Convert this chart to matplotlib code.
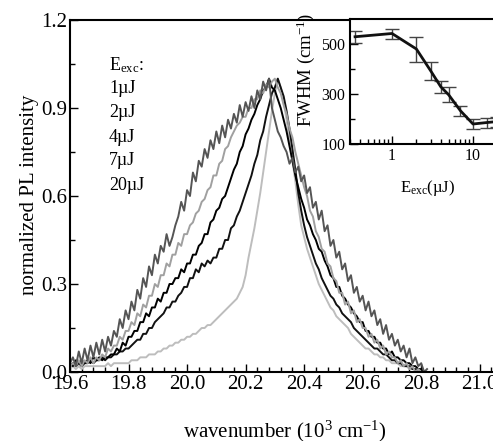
import numpy as np
import matplotlib
matplotlib.use("Agg")
import matplotlib.pyplot as plt
from matplotlib.ticker import MultipleLocator, FixedLocator, NullFormatter, LogLocator

plt.rcParams['font.family'] = 'Liberation Serif'
plt.rcParams['mathtext.fontset'] = 'custom'
plt.rcParams['mathtext.rm'] = 'Liberation Serif'
plt.rcParams['mathtext.it'] = 'Liberation Serif:italic'

# wavenumber grid (10^3 cm^-1), 19.60 ... 20.82 in steps of 0.01
wavenumber = np.round(np.arange(19.60, 20.825, 0.01), 2)

pl_20uJ = [.03, .05, .02, .07, .03, .08, .04, .09, .05, .10,
           .06, .11, .07, .12, .09, .14, .12, .18, .15, .21,
           .18, .24, .21, .28, .25, .32, .29, .36, .33, .40,
           .37, .43, .41, .47, .43, .46, .50, .53, .58, .55,
           .62, .60, .68, .65, .72, .70, .76, .73, .79, .76,
           .82, .78, .84, .80, .86, .83, .88, .85, .91, .87,
           .92, .89, .94, .90, .96, .93, .99, .96, 1.0, .90,
           .86, .82, .80, .77, .75, .71, .73, .68, .70, .65,
           .67, .61, .63, .56, .58, .52, .55, .48, .50, .43,
           .45, .39, .41, .35, .37, .31, .33, .27, .29, .24,
           .26, .21, .24, .19, .21, .16, .18, .13, .16, .11,
           .13, .09, .11, .07, .09, .05, .08, .03, .05, .02,
           .03, .00, .01]

pl_7uJ = [.02, .03, .02, .04, .02, .04, .03, .05, .03, .05,
          .04, .06, .05, .08, .07, .09, .09, .12, .11, .14,
          .14, .17, .16, .20, .19, .23, .22, .26, .26, .30,
          .29, .33, .33, .37, .36, .40, .40, .44, .43, .47,
          .47, .50, .51, .54, .55, .58, .59, .62, .63, .67,
          .67, .71, .72, .76, .77, .80, .82, .84, .85, .87,
          .87, .90, .90, .93, .93, .96, .95, .98, .97, .99,
          1.0, .97, .95, .91, .88, .83, .80, .75, .71, .67,
          .63, .60, .55, .53, .48, .46, .42, .41, .37, .36,
          .32, .31, .27, .27, .23, .24, .20, .21, .17, .18,
          .15, .15, .12, .13, .10, .11, .08, .09, .06, .07,
          .05, .05, .03, .04, .02, .03, .01, .02, .00, .01,
          .00, .00, .00]

pl_4uJ = [.03, .02, .04, .03, .04, .03, .04, .03, .05, .04,
          .05, .04, .05, .05, .06, .06, .08, .07, .10, .09,
          .12, .12, .14, .14, .17, .17, .20, .19, .22, .22,
          .25, .24, .27, .27, .30, .30, .32, .32, .35, .34,
          .37, .37, .40, .40, .43, .44, .47, .47, .51, .52,
          .55, .56, .59, .60, .63, .66, .69, .71, .75, .77,
          .81, .83, .86, .88, .91, .93, .96, .97, 1.0, .97,
          .96, .93, .90, .86, .82, .77, .72, .67, .63, .59,
          .56, .52, .50, .47, .45, .42, .41, .38, .36, .33,
          .32, .29, .29, .26, .25, .23, .22, .20, .19, .17,
          .17, .14, .14, .12, .12, .10, .10, .08, .08, .06,
          .07, .05, .05, .04, .04, .03, .03, .02, .02, .01,
          .01, .00, .00]

pl_2uJ = [.02, .03, .02, .03, .02, .03, .03, .04, .03, .04,
          .04, .05, .04, .05, .05, .06, .06, .07, .07, .08,
          .08, .09, .10, .11, .11, .13, .13, .15, .15, .17,
          .18, .19, .20, .22, .22, .24, .24, .26, .27, .29,
          .29, .32, .32, .35, .34, .37, .36, .38, .37, .39,
          .39, .42, .42, .45, .45, .49, .50, .53, .55, .58,
          .61, .64, .67, .71, .74, .79, .82, .87, .91, .95,
          .97, 1.0, .97, .94, .89, .83, .76, .69, .61, .55,
          .50, .46, .43, .40, .37, .35, .32, .30, .28, .26,
          .25, .23, .22, .20, .19, .18, .17, .15, .14, .13,
          .12, .11, .10, .09, .08, .08, .07, .06, .06, .05,
          .04, .04, .03, .03, .02, .02, .02, .01, .01, .00,
          .00, .00, .00]

pl_1uJ = [.01, .02, .01, .02, .01, .02, .02, .02, .02, .02,
          .02, .02, .02, .03, .02, .03, .03, .03, .03, .03,
          .03, .04, .04, .04, .05, .05, .05, .06, .06, .06,
          .07, .07, .08, .08, .09, .09, .10, .10, .11, .11,
          .12, .12, .13, .13, .14, .15, .15, .16, .16, .17,
          .18, .19, .20, .21, .22, .23, .24, .25, .27, .29,
          .33, .39, .44, .49, .55, .61, .68, .75, .82, .89,
          .95, 1.0, .97, .92, .86, .79, .72, .65, .57, .50,
          .46, .42, .39, .36, .33, .30, .28, .26, .24, .22,
          .21, .19, .18, .17, .16, .15, .13, .12, .11, .10,
          .09, .08, .08, .07, .06, .06, .05, .05, .04, .04,
          .03, .03, .03, .02, .02, .02, .01, .01, .01, .00,
          .00, .00, .00]

legend_labels = ['E$_{\\rm exc}$:', '1\u00b5J', '2\u00b5J', '4\u00b5J', '7\u00b5J', '20\u00b5J']

# inset: FWHM vs excitation energy
e_exc = [0.35, 1, 2, 3, 4, 5, 7, 10, 15, 20]
fwhm = [529, 542, 480, 393, 329, 297, 233, 180, 186, 190]
fwhm_err = [25, 20, 50, 37, 23, 30, 21, 20, 20, 20]

fig = plt.figure(figsize=(4.93, 4.41), dpi=100)
ax = fig.add_axes([70 / 493, 69 / 441, 439 / 493, 352 / 441])

ax.plot(wavenumber, pl_1uJ, color='#bdbdbd', lw=1.4)
ax.plot(wavenumber, pl_2uJ, color='#111111', lw=1.4)
ax.plot(wavenumber, pl_4uJ, color='#000000', lw=1.4)
ax.plot(wavenumber, pl_7uJ, color='#a0a0a0', lw=1.4)
ax.plot(wavenumber, pl_20uJ, color='#555555', lw=1.4)

ax.set_xlim(19.6, 21.1)
ax.set_ylim(0, 1.2)
ax.xaxis.set_major_locator(FixedLocator([19.6, 19.8, 20.0, 20.2, 20.4, 20.6, 20.8, 21.0]))
ax.xaxis.set_minor_locator(MultipleLocator(0.04))
ax.yaxis.set_major_locator(MultipleLocator(0.3))
ax.yaxis.set_minor_locator(MultipleLocator(0.15))
ax.set_xticklabels(['19.6', '19.8', '20.0', '20.2', '20.4', '20.6', '20.8', '21.0'])
ax.yaxis.set_major_formatter(plt.FuncFormatter(lambda v, p: f'{v:.1f}'))
ax.tick_params(which='both', direction='in', labelsize=15, width=1)
ax.tick_params(which='major', length=6, pad=2)
ax.tick_params(which='minor', length=3.5)
for s in ax.spines.values():
    s.set_linewidth(1.5)

ax.set_xlabel('wavenumber (10$^3$ cm$^{-1}$)', fontsize=15)
ax.xaxis.set_label_coords((285 - 70) / 439, -(419 - 372) / 352)
ax.set_ylabel('normalized PL intensity', fontsize=15)
ax.yaxis.set_label_coords(-(70 - 39) / 439, (372 - 195) / 352)

ys = [65, 89, 113, 137, 161, 185]
for lab, yy in zip(legend_labels, ys):
    ax.text((109 - 70) / 439, (372 - yy) / 352, lab, transform=ax.transAxes,
            fontsize=13, ha='left', va='center')

# inset
lo, hi = 0.3, 25
w_px = 81 * (np.log10(hi) - np.log10(lo))
left_px = 392 - 81 * (0 - np.log10(lo))
ins = fig.add_axes([left_px / 493, (441 - 144) / 441, w_px / 493, 125 / 441])
ins.errorbar(e_exc, fwhm, yerr=fwhm_err, color='#111111', lw=2, ecolor='#444444',
             elinewidth=1, capsize=5, capthick=1)
ins.set_xscale('log')
ins.set_xlim(lo, hi)
ins.set_ylim(100, 600)
ins.set_xticks([1, 10])
ins.set_xticklabels(['1', '10'])
ins.xaxis.set_minor_locator(LogLocator(base=10, subs=np.arange(2, 10)))
ins.xaxis.set_minor_formatter(NullFormatter())
ins.set_yticks([100, 300, 500])
ins.set_yticklabels(['100', '300', '500'])
ins.yaxis.set_minor_locator(FixedLocator([200, 400]))
ins.tick_params(which='both', direction='in', labelsize=11.5, width=1)
ins.tick_params(which='major', length=6, pad=3)
ins.tick_params(which='minor', length=3.5)
for s in ins.spines.values():
    s.set_linewidth(1.5)
ins.set_ylabel('FWHM (cm$^{-1}$)', fontsize=13.5)
ins.yaxis.set_label_coords(-(left_px - 317) / w_px, (144 - 70) / 125)
ins.set_xlabel('E$_{\\rm exc}$(\u00b5J)', fontsize=12)
ins.xaxis.set_label_coords((428 - left_px) / w_px, -(178 - 144) / 125)

fig.savefig('out.png', dpi=100)
